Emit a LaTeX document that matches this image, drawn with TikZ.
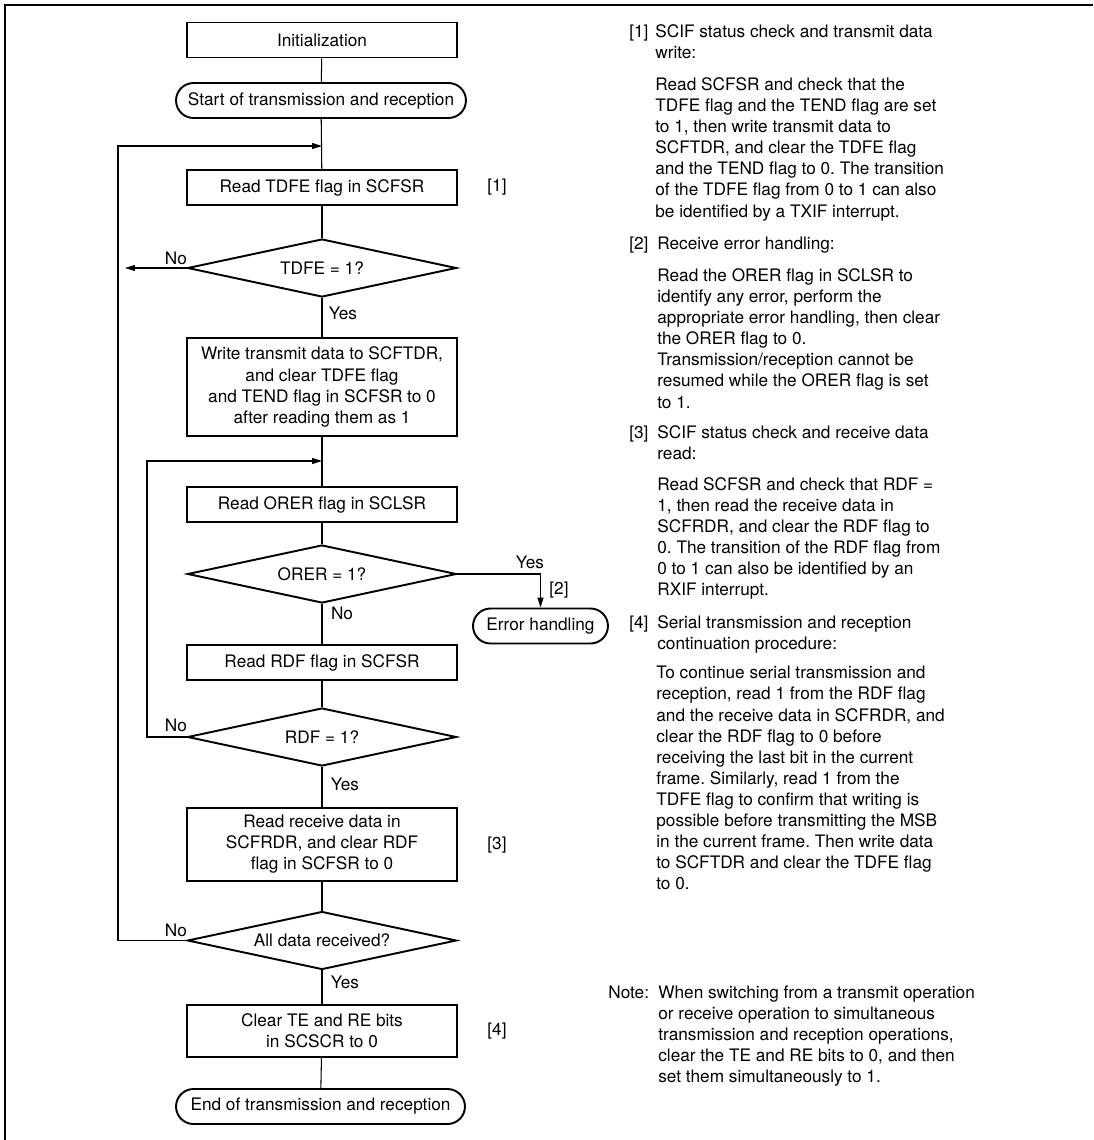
\documentclass[tikz,border=0pt]{standalone}
\usepackage{fontspec}
\setmainfont{TeX Gyre Heros}
\usetikzlibrary{shapes.geometric, arrows.meta}
\frenchspacing
\newcommand{\txtsize}{\fontsize{9.8}{12}\selectfont}
\tikzset{proc/.style={draw, line width=1.1pt, minimum width=5.4cm, minimum height=0.7cm, align=center, inner sep=0pt},
  term/.style={draw, line width=1.1pt, rounded corners=0.35cm, minimum height=0.7cm, inner sep=0pt},
  dec/.style={draw, diamond, aspect=4.64, line width=1.1pt, minimum width=5.38cm, minimum height=1.16cm, inner sep=0pt},
  flow/.style={line width=0.6pt},
  arr/.style={line width=0.6pt, -{Triangle[length=2mm,width=1.2mm]}},
  lbl/.style={inner sep=0pt},
  note/.style={inner sep=0pt, align=left, anchor=base west}}

\begin{document}
\begin{tikzpicture}[x=0.02cm, y=-0.02cm, font=\txtsize]
\useasboundingbox (0,0) rectangle (1093,1140);
\draw[line width=1.3pt] (5,1140) -- (5,5) -- (1093,5);
% main column
\node[proc] (init) at (322,40) {Initialization};
\node[term, minimum width=5.8cm] (start) at (321,100.5) {Start of transmission and reception};
\node[proc] (rtdfe) at (322,187.5) {Read TDFE flag in SCFSR};
\node[dec] (qtdfe) at (322,268) {TDFE = 1?};
\node[proc, minimum height=1.96cm] (write) at (322,387) {Write transmit data to SCFTDR,\\and clear TDFE flag\\and TEND flag in SCFSR to 0\\after reading them as 1};
\node[proc] (rorer) at (322,504.5) {Read ORER flag in SCLSR};
\node[dec] (qorer) at (322,574) {ORER = 1?};
\node[term, minimum width=2.7cm] (errh) at (540.5,626) {Error handling};
\node[proc] (rrdf) at (322,662.5) {Read RDF flag in SCFSR};
\node[dec] (qrdf) at (322,737) {RDF = 1?};
\node[proc, minimum height=1.46cm] (rdata) at (322,844.5) {Read receive data in\\SCFRDR, and clear RDF\\flag in SCFSR to 0};
\node[dec] (qall) at (322,940.5) {All data received?};
\node[proc, minimum height=1.04cm] (clr) at (322,1031) {Clear TE and RE bits\\in SCSCR to 0};
\node[term, minimum width=5.78cm] (endt) at (320.5,1106.5) {End of transmission and reception};
% step marks
\node[lbl] (m1) at (497,187) {[1]};
\node[lbl] (m2) at (559,590) {[2]};
\node[lbl] (m3) at (497,845) {[3]};
\node[lbl] (m4) at (497,1031) {[4]};
% yes / no
\node[lbl] (n1) at (176,258) {No};
\node[lbl] (y1) at (343,313) {Yes};
\node[lbl] (y2) at (530,562) {Yes};
\node[lbl] (n2) at (342,613) {No};
\node[lbl] (n3) at (176,725) {No};
\node[lbl] (y3) at (345,784) {Yes};
\node[lbl] (n4) at (176,930) {No};
\node[lbl] (y4) at (345,982) {Yes};
% connectors
\foreach \a/\b in {init/start, start/rtdfe, rtdfe/qtdfe, qtdfe/write, write/rorer, rorer/qorer, qorer/rrdf, rrdf/qrdf, qrdf/rdata, rdata/qall, qall/clr, clr/endt}
  \draw[flow] (\a) -- (\b);
\coordinate (lp1) at (118,146); \coordinate (j1) at (322,146);
\coordinate (lp2) at (147,461); \coordinate (j2) at (322,461);
\coordinate (tdfeno) at (125,268);
\draw[arr] (qall.west) -| (lp1) -- (j1);
\draw[arr] (qrdf.west) -| (lp2) -- (j2);
\draw[arr] (qtdfe.west) -- (tdfeno);
\draw[arr] (qorer.east) -| (errh.north);
% notes on the right (base = last line)
\node[lbl, anchor=base west] (k1) at (629,37) {[1]};
\node[note] (h1) at (655,58.2) {SCIF status check and transmit data\\write:};
\node[note] (b1) at (655,217) {Read SCFSR and check that the\\TDFE flag and the TEND flag are set\\to 1, then write transmit data to\\SCFTDR, and clear the TDFE flag\\and the TEND flag to 0. The transition\\of the TDFE flag from 0 to 1 can also\\be identified by a TXIF interrupt.};
\node[lbl, anchor=base west] (k2) at (629,249) {[2]};
\node[note] (h2) at (657,249) {Receive error handling:};
\node[note] (b2) at (657,408) {Read the ORER flag in SCLSR to\\identify any error, perform the\\appropriate error handling, then clear\\the ORER flag to 0.\\Transmission/reception cannot be\\resumed while the ORER flag is set\\to 1.};
\node[lbl, anchor=base west] (k3) at (629,438) {[3]};
\node[note] (h3) at (657,459.2) {SCIF status check and receive data\\read:};
\node[note] (b3) at (657,595.8) {Read SCFSR and check that RDF =\\1, then read the receive data in\\SCFRDR, and clear the RDF flag to\\0. The transition of the RDF flag from\\0 to 1 can also be identified by an\\RXIF interrupt.};
\node[lbl, anchor=base west] (k4) at (629,628) {[4]};
\node[note] (h4) at (657,649.2) {Serial transmission and reception\\continuation procedure:};
\node[note] (b4) at (656,889.7) {To continue serial transmission and\\reception, read 1 from the RDF flag\\and the receive data in SCFRDR, and\\clear the RDF flag to 0 before\\receiving the last bit in the current\\frame. Similarly, read 1 from the\\TDFE flag to confirm that writing is\\possible before transmitting the MSB\\in the current frame. Then write data\\to SCFTDR and clear the TDFE flag\\to 0.};
\node[lbl, anchor=base west] (kn) at (608,998) {Note:};
\node[note] (bn) at (658,1082.7) {When switching from a transmit operation\\or receive operation to simultaneous\\transmission and reception operations,\\clear the TE and RE bits to 0, and then\\set them simultaneously to 1.};
\end{tikzpicture}
\end{document}
